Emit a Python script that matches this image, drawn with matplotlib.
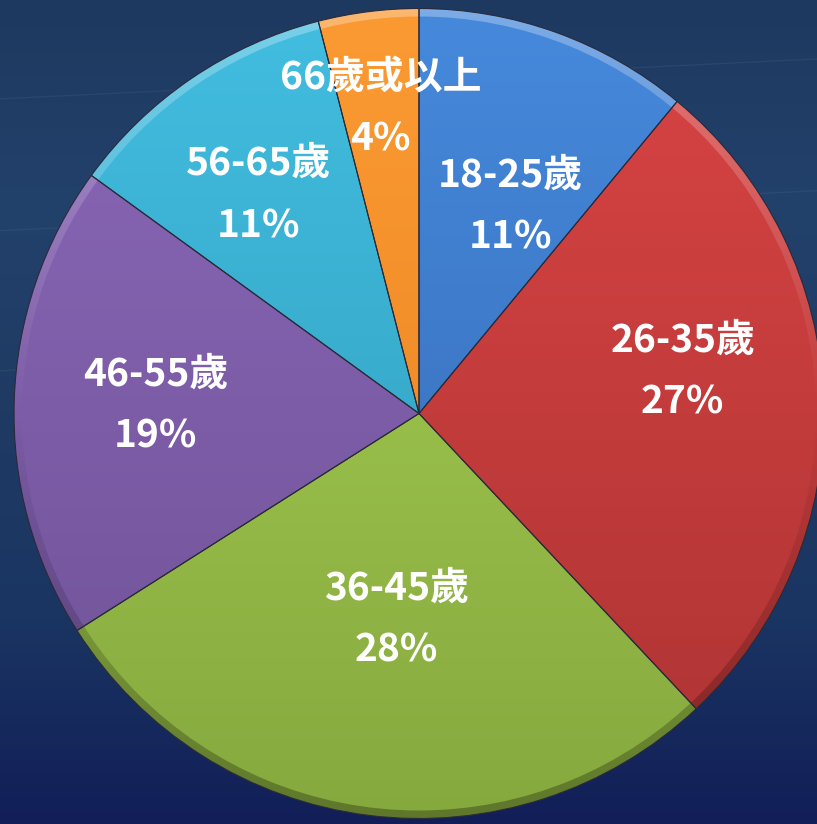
import numpy as np
import matplotlib.pyplot as plt
from matplotlib.colors import LinearSegmentedColormap
from matplotlib.patches import Wedge

plt.rcParams['font.family'] = ['Noto Sans CJK TC', 'DejaVu Sans']

# data
labels = ['18-25歲', '26-35歲', '36-45歲', '46-55歲', '56-65歲', '66歲或以上']
shares = [11, 27, 28, 19, 11, 4]

# styles
top_colors = ['#4689dc', '#d94444', '#a9d255', '#8a67b8', '#42bde0', '#fb9a33']
bottom_colors = ['#3467b0', '#ad3333', '#86a93e', '#6f5296', '#2f9ab8', '#e8801d']
label_dist = [0.56, 0.66, 0.51, 0.65, 0.67, 0.76]
label_shift = [-4, 7.4, 1, 0, 2, 0]   # degrees, nudges off the mid angle

W, H = 817, 824
fig = plt.figure(figsize=(W / 100, H / 100), dpi=100)
ax = fig.add_axes([0, 0, 1, 1])

# background
bg = LinearSegmentedColormap.from_list('bg', ['#121e58', '#1a3562', '#1f3b64', '#22416b', '#1e3960'])
ax.imshow(np.linspace(0, 1, 256)[:, None], extent=[0, W, 0, H], origin='lower',
          cmap=bg, aspect='auto', zorder=0)
for yy in [0.55, 0.72, 0.88]:
    ax.plot([0, W], [H * yy, H * yy + 40], color='white', alpha=0.05, lw=1, zorder=1)

cx, cy, R = 419, 410.5, 405
wedges, _ = ax.pie(shares, startangle=90, counterclock=False, center=(cx, cy), radius=R)

grad = np.linspace(0, 1, 256)[:, None]
for w, c1, c2 in zip(wedges, top_colors, bottom_colors):
    cmap = LinearSegmentedColormap.from_list('', [c2, c1])
    im = ax.imshow(grad, extent=[cx - R, cx + R, cy - R, cy + R], origin='lower',
                   cmap=cmap, aspect='auto', zorder=2)
    im.set_clip_path(w)
    w.set_facecolor('none')
    w.set_edgecolor('#2a2a3a')
    w.set_linewidth(0.8)
    w.set_zorder(4)

# bevel on the rim: light at the top, shadow at the bottom
t = np.linspace(0, 1, 256)
rgba = np.zeros((256, 1, 4))
rgba[:, 0, :3] = (t > 0.5)[:, None] * 1.0
rgba[:, 0, 3] = np.abs(t - 0.5) * 0.6
rim = Wedge((cx, cy), R, 0, 360, width=8, facecolor='none', edgecolor='none')
ax.add_patch(rim)
im = ax.imshow(rgba, extent=[cx - R, cx + R, cy - R, cy + R], origin='lower',
               aspect='auto', zorder=3)
im.set_clip_path(rim)

for w, lab, s, d, sh in zip(wedges, labels, shares, label_dist, label_shift):
    ang = np.deg2rad((w.theta1 + w.theta2) / 2 + sh)
    x = cx + d * R * np.cos(ang)
    y = cy + d * R * np.sin(ang)
    ax.text(x, y + 31, lab, ha='center', va='center', color='white',
            fontsize=28, fontweight='bold', zorder=5)
    ax.text(x, y - 31, f'{s}%', ha='center', va='center', color='white',
            fontsize=28, fontweight='bold', zorder=5)

ax.set_xlim(0, W)
ax.set_ylim(0, H)
ax.axis('off')
fig.savefig('out.png', dpi=100)
